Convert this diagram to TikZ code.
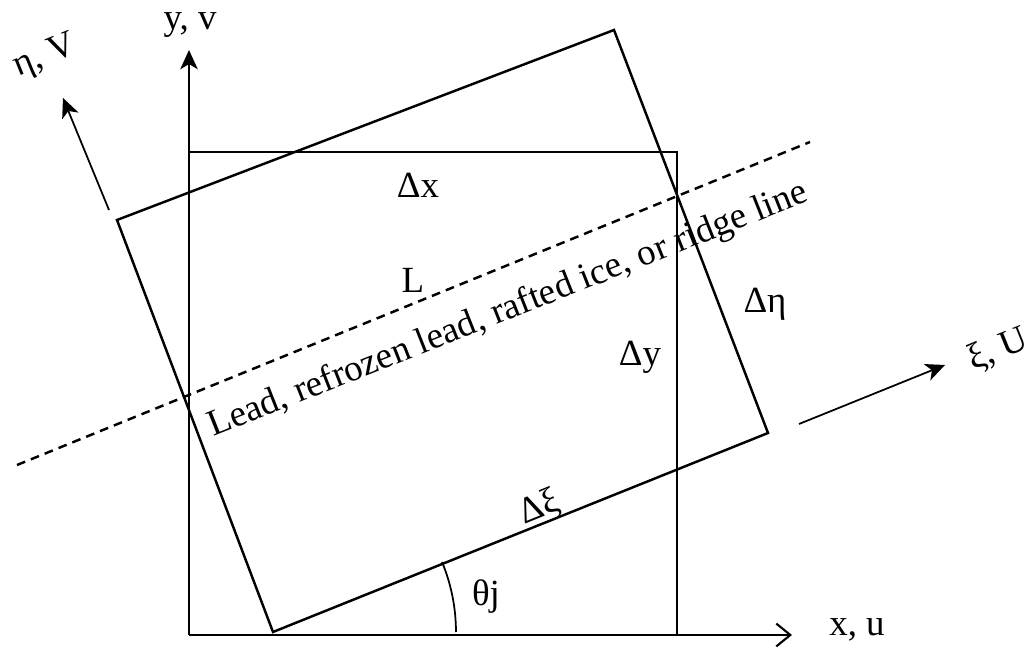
\documentclass[tikz,border=0pt]{standalone}
\usepackage{fontspec}
\setmainfont{Liberation Serif}
\usetikzlibrary{arrows.meta}
\tikzset{
  thinline/.style={line width=1.0pt},
  rectline/.style={line width=1.4pt, line join=miter},
  axisarrow/.style={line width=1.0pt, -{Stealth[length=11pt,width=10pt,inset=3pt]}},
  openarrow/.style={line width=1.0pt, -{Straight Barb[length=8pt,width=13pt,line width=1.2pt]}},
  leadline/.style={line width=1.4pt, dash pattern=on 5pt off 3.5pt},
  lbl/.style={font=\fontsize{21}{25}\selectfont, inner sep=0pt}
}
\begin{document}
\begin{tikzpicture}[x=0.02cm,y=0.02cm]
\useasboundingbox (0,0) rectangle (1033,648);
% origin and axes
\coordinate (O) at (189,13);
\coordinate (ytip) at (189,598);
\coordinate (xtip) at (792,13);
% square
\coordinate (S1) at (189,496);
\coordinate (S2) at (677,496);
\coordinate (S3) at (677,13);
% rotated rectangle
\coordinate (A) at (117,428);
\coordinate (B) at (614,618);
\coordinate (C) at (768,215);
\coordinate (D) at (273,16);
% dashed lead line
\coordinate (L1) at (17,183);
\coordinate (L2) at (810,506);
% rotated axes
\coordinate (etaS) at (109,438);
\coordinate (etaT) at (63,550);
\coordinate (xiS) at (799,224);
\coordinate (xiT) at (945,283);

\draw[axisarrow] (O) -- (ytip);
\draw[openarrow] (O) -- (xtip);
\draw[thinline] (S1) -- (S2) -- (S3);
\draw[rectline] (A) -- (B) -- (C) -- (D) -- cycle;
\draw[leadline] (L1) -- (L2);
\draw[axisarrow] (etaS) -- (etaT);
\draw[axisarrow] (xiS) -- (xiT);
\draw[thinline] (D) ++(0:3.66cm) arc[start angle=0, end angle=22.5, radius=3.66cm];

% labels
\node[lbl] (ylab) at (190,623) {y, v};
\node[lbl, rotate=22] (etalab) at (45,591) {η, V};
\node[lbl] (dx) at (418,463) {Δx};
\node[lbl] (Llab) at (413,368) {L};
\node[lbl, rotate=21.6, anchor=base west] (lead) at (213,211) {Lead, refrozen lead, rafted ice, or ridge line};
\node[lbl] (dy) at (640,291) {Δy};
\node[lbl] (deta) at (765,344) {Δη};
\node[lbl, rotate=22] (xilab) at (998,298) {ξ, U};
\node[lbl, rotate=22] (dxi) at (540,140) {Δξ};
\node[lbl] (theta) at (486,51) {θj};
\node[lbl] (xlab) at (857,18) {x, u};
\end{tikzpicture}
\end{document}
